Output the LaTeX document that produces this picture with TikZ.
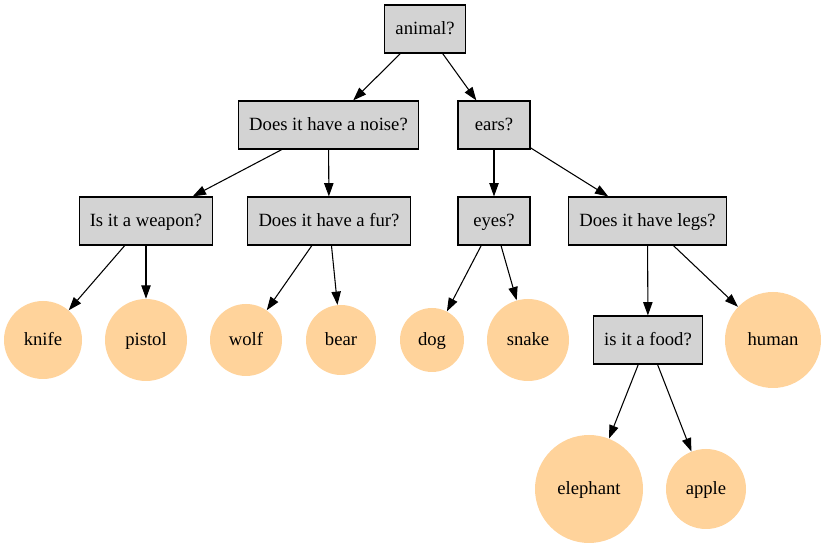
\documentclass[tikz,border=0pt]{standalone}
\usepackage{fontspec}
\setmainfont{Liberation Serif}
\usetikzlibrary{arrows.meta}
\definecolor{qgray}{HTML}{D3D3D3}
\definecolor{leaf}{HTML}{FFD39B}
\begin{document}
\begin{tikzpicture}[x=0.75pt, y=-0.75pt,
  question/.style={rectangle, draw=black, line width=0.8pt, fill=qgray, minimum width=54pt, minimum height=36pt, inner xsep=7.92pt, text height=10.5pt, text depth=2.5pt, font=\fontsize{14}{16}\selectfont},
  answer/.style={circle, fill=leaf, inner sep=0pt, text height=10.5pt, text depth=2.5pt, font=\fontsize{14}{16}\selectfont},
  arr/.style={line width=0.8pt, -{Triangle[length=10pt, width=7pt]}}]
\useasboundingbox (0,0) rectangle (825,548);
\node[question] (q0) at (425,29){animal?};
\node[question] (q1) at (328.5,125){Does it have a noise?};
\node[question] (q2) at (494,125){ears?};
\draw[arr](q0) -- (q1);
\draw[arr](q0) -- (q2);
\node[question] (q3) at (146,221){Is it a weapon?};
\node[question] (q4) at (329,221){Does it have a fur?};
\draw[arr](q1) -- (q3);
\draw[arr](q1) -- (q4);
\node[question] (q5) at (494,221){eyes?};
\node[question] (q6) at (647.5,221){Does it have legs?};
\draw[arr](q2) -- (q5);
\draw[arr](q2) -- (q6);
\node[answer, minimum size=58.5pt] (a0) at (43,340){knife};
\node[answer, minimum size=61.5pt] (a1) at (146,340){pistol};
\draw[arr](q3) -- (a0);
\draw[arr](q3) -- (a1);
\node[answer, minimum size=54pt] (a2) at (246,340){wolf};
\node[answer, minimum size=52.5pt] (a3) at (341,340){bear};
\draw[arr](q4) -- (a2);
\draw[arr](q4) -- (a3);
\node[answer, minimum size=48pt] (a4) at (432,340){dog};
\node[answer, minimum size=61.5pt] (a5) at (528,340){snake};
\draw[arr](q5) -- (a4);
\draw[arr](q5) -- (a5);
\node[question] (q7) at (648,340){is it a food?};
\node[answer, minimum size=72pt] (a6) at (773,340){human};
\draw[arr](q6) -- (q7);
\draw[arr](q6) -- (a6);
\node[answer, minimum size=81pt] (a7) at (589,489){elephant};
\node[answer, minimum size=60pt] (a8) at (706,489){apple};
\draw[arr](q7) -- (a7);
\draw[arr](q7) -- (a8);
\end{tikzpicture}
\end{document}
